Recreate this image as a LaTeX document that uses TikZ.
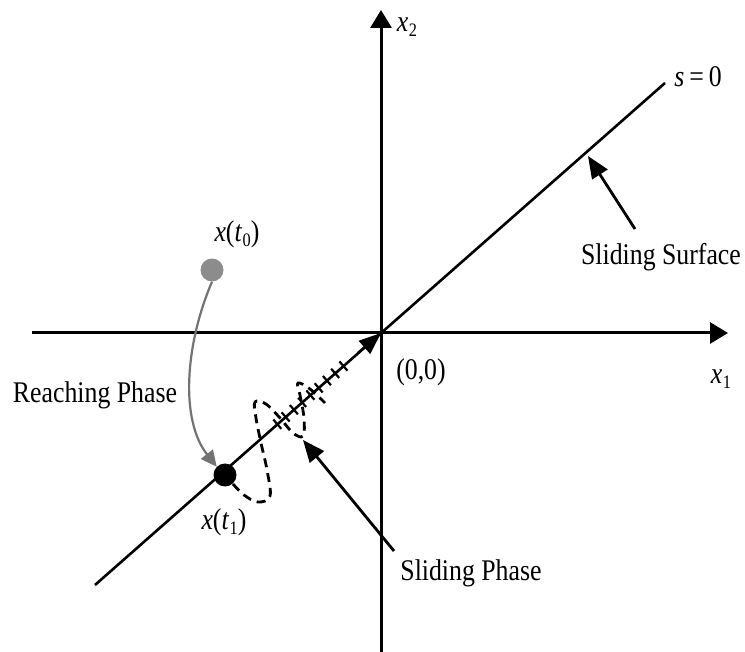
\documentclass[tikz,border=0pt]{standalone}
\usepackage{fontspec}
\setmainfont{Liberation Serif}[FakeStretch=0.86]
\usetikzlibrary{arrows.meta}
\newcommand{\mvar}[2]{\textit{#1}\kern0.5pt\raisebox{-0.35ex}{\fontsize{19}{20}\selectfont #2}}
\begin{document}
\begin{tikzpicture}[x=1pt,y=-1pt,
  lbl/.style={font=\fontsize{30}{34}\selectfont, inner sep=0pt},
  axisline/.style={line width=3pt, -{Triangle[length=18pt,width=21pt]}},
  surf/.style={line width=2.6pt},
  pointer/.style={line width=2.8pt, -{Triangle[length=22pt,width=18pt]}},
  traj/.style={line width=2.8pt, dash pattern=on 9pt off 6pt},
  tick/.style={line width=2.2pt},
  dotstyle/.style={circle, inner sep=0pt, minimum size=23pt}]
\useasboundingbox (0,0) rectangle (745,652);
\fill[white] (0,0) rectangle (745,652);

% axes
\coordinate (O) at (381,333);
\coordinate (xl) at (32,333);
\coordinate (xr) at (728,333);
\coordinate (yb) at (381,652);
\coordinate (yt) at (381,10);
\draw[axisline] (xl) -- (xr);
\draw[axisline] (yb) -- (yt);

% sliding surface
\coordinate (sl) at (95,585);
\coordinate (su) at (665,83);
\draw[surf] (sl) -- (su);

% labels
\node[lbl] (lx2) at (407,27) {\mvar{x}{2}};
\node[lbl] (ls0) at (698,77) {\textit{s}\,=\,0};
\node[lbl] (lss) at (661,257) {Sliding Surface};
\node[lbl] (lx1) at (721,379) {\mvar{x}{1}};
\node[lbl] (l00) at (421,372) {(0,0)};
\node[lbl] (lrp) at (95,395) {Reaching Phase};
\node[lbl] (lsp) at (471,573) {Sliding Phase};
\node[lbl] (lt0) at (237,234) {\textit{x}(\mvar{t}{0})};
\node[lbl] (lt1) at (224,522) {\textit{x}(\mvar{t}{1})};

% pointers
\coordinate (ssTail) at (635,229);
\coordinate (ssTip) at (588,156);
\draw[pointer] (ssTail) -- (ssTip);
\coordinate (spTail) at (394,551);
\coordinate (spTip) at (303,440);
\draw[pointer] (spTail) -- (spTip);

% states
\node[dotstyle, fill=black!45] (x0) at (212,270) {};
\node[dotstyle, fill=black] (x1) at (225,475) {};
\draw[black!55, line width=2.2pt, -{Triangle[length=16pt,width=15pt]}]
  (x0.south) .. controls (185,345) and (180,420) .. (x1.north west);

% sliding trajectory
\draw[traj] plot[smooth, tension=0.6] coordinates {
  (233,484) (244,495) (258,502) (270,496) (267,470) (261,443) (256,418)
  (255,402) (266,404) (280,418) (293,433) (303,436) (304,418) (300,395)
  (298,383) (310,389) (325,403)};
\foreach \dd in {50,61,72,83,94,105,116,127,138}
  \draw[tick] ({381-0.751*\dd+4},{333+0.661*\dd+4.6}) -- ({381-0.751*\dd-4},{333+0.661*\dd-4.6});
\coordinate (oa) at (358,353);
\draw[line width=2.5pt, -{Triangle[length=22pt,width=17pt]}] (oa) -- (O);
\end{tikzpicture}
\end{document}
